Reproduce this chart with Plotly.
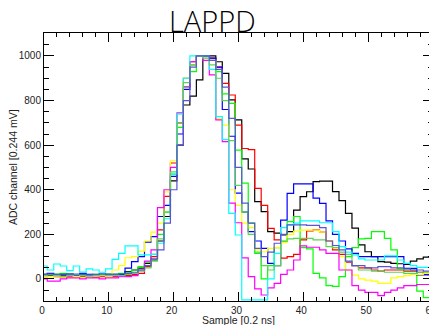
import plotly.graph_objects as go

samples = list(range(61))

black = [15,15,12,15,18,15,12,15,15,12,15,15, 15,33,40,48,70,85,170,280,
         440,600,780,820,893,1000,1000,974,922,803,
         713,538,493,347,302,212,205,197,212,309,
         369,391,436,439,439,392,351,294,228,153,
         122,100,78,75,70,68,65,80,90,98, 100]
red = [10,12,10,8,10,12,10,10,8,10,12,10, 12,15,20,25,55,100,220,370,
       520,700,900,974,1000,1000,990,950,877,825,
       690,585,580,406,330,227,175,93,100,110,
       175,215,220,210,170,130,110,75,60,50,
       50,40,35,40,40,40,35,35,30,20, 15]
green = [20,20,22,25,22,18,15,15,20,18,22,20, 25,30,40,55,75,110,200,300,
         470,680,860,930,1000,1000,980,930,830,787,
         578,430,250,115,0,60,140,170,257,280,
         140,135,25,5,-30,-33,10,100,140,180,
         182,212,212,182,130,45,40,40,-55,-84, -95]
blue = [20,25,18,20,22,15,25,20,18,22,20,20, 20,48,78,100,165,190,280,330,
        460,650,850,960,1000,1000,990,950,760,640,
        385,300,212,170,137,70,60,264,384,426,
        426,426,362,339,260,200,170,135,115,100,
        100,100,100,100,100,100,47,47,18,18, 18]
yellow = [10,10,12,8,15,10,5,10,12,15,10,40, 60,95,100,125,170,210,250,390,
          530,740,900,960,1000,990,980,720,690,400,
          330,250,230,130,122,137,140,163,200,215,
          219,219,219,210,170,140,100,40,17,0,
          -5,-10,-20,-20,5,10,15,20,20,25, 30]
magenta = [0,-10,-10,0,5,5,0,5,5,0,5,5, 10,10,15,40,80,130,320,400,
           500,745,862,975,1000,980,915,713,616,340,
           252,94,10,-45,-72,-40,-20,20,40,85,
           148,142,142,130,115,115,40,40,-30,-50,
           -60,-60,-75,-60,-50,-40,-30,-30,-25,-25, -20]
cyan = [58,40,67,58,37,58,31,45,40,30,45,88, 115,148,148,108,108,110,160,270,
        470,740,900,1000,1000,1000,940,728,625,294,
        197,-94,-94,-94,-94,0,115,230,242,250,
        260,260,260,252,252,212,145,120,108,90,
        85,85,85,103,103,85,70,60,52,52, 52]
lgreen = [15,18,15,12,15,18,15,12,15,18,15,15, 15,20,25,35,50,80,180,300,
          480,700,880,960,1000,990,960,900,800,620,
          420,300,200,120,60,40,60,168,180,182,
          182,182,175,175,145,140,120,110,60,40,
          40,35,35,30,30,30,25,25,30,30, 30]
violet = [20,22,20,18,20,22,20,18,20,22,20,20, 22,25,30,40,60,90,130,250,
          400,600,800,950,1000,1000,980,940,860,720,
          500,340,250,137,100,120,160,200,242,242,
          242,240,240,230,170,150,130,80,60,60,
          50,50,55,55,50,50,45,40,40,35, 30]

series = [
    ("black", black, "#000000"),
    ("red", red, "#ff0000"),
    ("green", green, "#00ff00"),
    ("blue", blue, "#0000ff"),
    ("yellow", yellow, "#ffff00"),
    ("magenta", magenta, "#ff00ff"),
    ("cyan", cyan, "#00ffff"),
    ("lgreen", lgreen, "#59d454"),
    ("violet", violet, "#5954d8"),
]

fig = go.Figure()
for name, vals, col in series:
    fig.add_trace(go.Scatter(x=samples, y=vals, mode="lines", name=name,
                             line=dict(shape="hvh", color=col, width=1.2),
                             showlegend=False))

lab_font = dict(family="Liberation Sans, Arial, sans-serif", size=10, color="#222")
axis_common = dict(showline=True, linecolor="black", linewidth=1, mirror="allticks",
                   ticks="inside", tickcolor="black", showgrid=False, zeroline=False,
                   automargin=False, tickfont=lab_font, ticklabeloverflow="allow")

# the page body has an 8px margin, so the figure is sized to fill the rest of the window
fig.update_layout(
    width=429, height=317,
    margin=dict(l=36, r=4, t=25, b=24),
    paper_bgcolor="white", plot_bgcolor="white",
    xaxis=dict(range=[0, 60], dtick=10, ticklen=9, ticklabelshift=-2,
               minor=dict(dtick=2, ticklen=4, ticks="inside", tickcolor="black"),
               **axis_common),
    yaxis=dict(range=[-99, 1103], dtick=200, ticklen=10,
               minor=dict(dtick=50, ticklen=5, ticks="inside", tickcolor="black"),
               **axis_common),
    annotations=[
        dict(text="LAPPD", xref="paper", yref="paper", x=0.434, y=1.045, xanchor="center",
             yanchor="middle", showarrow=False,
             font=dict(family="Open Sans, sans-serif", size=29, color="black", weight=300)),
        dict(text="Sample [0.2 ns]", xref="paper", yref="paper", x=0.5, y=0,
             xanchor="center", yanchor="middle", yshift=-18.5, showarrow=False,
             font=dict(family="Liberation Sans, Arial, sans-serif", size=10.5, color="#222")),
        dict(text="ADC channel [0.244 mV]", xref="paper", yref="paper", x=0, y=0.5,
             xanchor="right", yanchor="middle", xshift=-23, textangle=-90, showarrow=False,
             font=dict(family="Liberation Sans, Arial, sans-serif", size=10.5, color="#222")),
    ],
)

fig.write_html("out.html")
